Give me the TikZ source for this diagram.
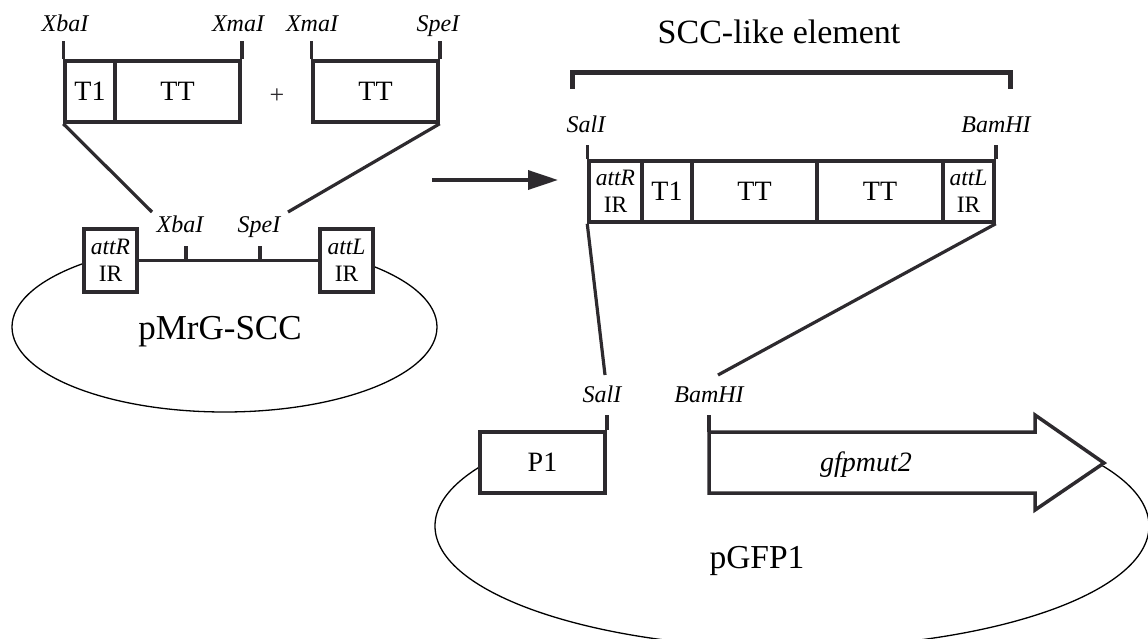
\documentclass[tikz,border=0pt]{standalone}
\usepackage{fontspec}
\setmainfont{Liberation Serif}
\usetikzlibrary{arrows.meta}
\definecolor{ink}{RGB}{45,42,46}
\begin{document}
\begin{tikzpicture}[x=1pt,y=-1pt,
  box/.style={draw=ink, line width=3.5pt, fill=white, inner sep=0pt, minimum height=61pt,
    font=\fontsize{28}{32}\selectfont},
  irbox/.style={draw=ink, line width=3.5pt, fill=white, inner sep=0pt, align=center,
    font=\fontsize{23.5}{27}\selectfont},
  tickline/.style={draw=ink, line width=3.5pt},
  conn/.style={draw=ink, line width=3.2pt},
  plas/.style={draw=black, line width=1.3pt},
  lab/.style={font=\fontsize{24}{28}\selectfont\itshape, inner sep=0pt, anchor=base},
  big/.style={font=\fontsize{34}{40}\selectfont, inner sep=0pt, anchor=base}]
\useasboundingbox (0,0) rectangle (1148,639);

% ---------- plasmid outlines (drawn first, lower parts only)
\begin{scope}
  \clip (0,258) rectangle (1148,639);
  \draw[plas] (224.5,327) ellipse [x radius=212.5, y radius=85];
\end{scope}
\begin{scope}
  \clip (0,466) rectangle (1148,660);
  \draw[plas] (792,526) ellipse [x radius=357, y radius=122];
\end{scope}

% ---------- top-left fragments
\node[box, minimum width=50pt]  (a1) at (90,91.5) {T1};
\node[box, minimum width=125pt] (a2) at (177.5,91.5) {TT};
\node[box, minimum width=125pt] (b1) at (375.5,91.5) {TT};
\draw[tickline] (a1.north west) -- ++(0,-18);
\draw[tickline] (a2.north east) -- ++(0,-18);
\draw[tickline] (b1.north west) -- ++(0,-18);
\draw[tickline] (b1.north east) -- ++(0,-18);
\node[lab] (lxba1) at (65,32) {XbaI};
\node[lab] (lxma1) at (238,32) {XmaI};
\node[lab] (lxma2) at (312,32) {XmaI};
\node[lab] (lspe1) at (438,32) {SpeI};
\node[font=\fontsize{26}{30}\selectfont, inner sep=0pt, text=ink] (plus) at (277,96) {+};

% ---------- pMrG-SCC
\node[irbox, minimum width=53pt, minimum height=63pt, line width=4pt] (pattR) at (110.5,260.5) {\textit{attR}\\IR};
\node[irbox, minimum width=53pt, minimum height=63pt, line width=4pt] (pattL) at (346.5,260.5) {\textit{attL}\\IR};
\draw[tickline] (pattR.east) -- (pattL.west);
\coordinate (kx) at (186,260);
\coordinate (ks) at (260,260);
\draw[tickline] (kx) -- ++(0,-14);
\draw[tickline] (ks) -- ++(0,-14);
\node[lab] (lxba2) at (180,233) {XbaI};
\node[lab] (lspe2) at (259,233) {SpeI};
\node[big, font=\fontsize{35}{40}\selectfont] (pmrg) at (220,339) {pMrG-SCC};

\coordinate (c1) at (152,212);
\coordinate (c2) at (288,212);
\draw[conn] (a1.south west) -- (c1);
\draw[conn] (b1.south east) -- (c2);

% ---------- middle arrow
\coordinate (arS) at (432,180);
\coordinate (arE) at (558,180);
\draw[draw=ink, line width=3.5pt, -{Triangle[length=30pt,width=19pt]}] (arS) -- (arE);

% ---------- SCC-like element
\node[big] (title) at (779,44) {SCC-like element};
\coordinate (brL) at (572,89);
\coordinate (brR) at (1010,89);
\draw[draw=ink, line width=5pt] (brL) -- (572,73) -- (1010,73) -- (brR);

\node[irbox, minimum width=53pt, minimum height=61pt] (sattR) at (615.5,191.5) {\textit{attR}\\IR};
\node[box, minimum width=50pt]  (sT1) at (667,191.5) {T1};
\node[box, minimum width=125pt] (sTT1) at (754.5,191.5) {TT};
\node[box, minimum width=126pt] (sTT2) at (880,191.5) {TT};
\node[irbox, minimum width=51pt, minimum height=61pt] (sattL) at (968.5,191.5) {\textit{attL}\\IR};
\draw[tickline] (sattR.north west) -- ++(0,-14);
\draw[tickline] (sattL.north east) -- ++(0,-14);
\node[lab] (lsal1) at (586,133) {SalI};
\node[lab] (lbam1) at (996,133) {BamHI};

\coordinate (d1) at (605,375);
\coordinate (d2) at (718,375);
\draw[conn] (sattR.south west) -- (d1);
\draw[conn] (sattL.south east) -- (d2);

% ---------- pGFP1
\node[lab] (lsal2) at (602,402) {SalI};
\node[lab] (lbam2) at (709,402) {BamHI};
\node[box, minimum width=125pt, font=\fontsize{28}{32}\selectfont] (p1) at (542.5,462.5) {P1};
\draw[tickline] (p1.north east) -- ++(0,-15);

\coordinate (g0) at (709,432);
\draw[draw=ink, line width=3.5pt, fill=white]
  (g0) -- (1035,432) -- (1035,415) -- (1104,463) -- (1035,510) -- (1035,493) -- (709,493) -- cycle;
\draw[tickline] (g0) -- ++(0,-17);
\node[inner sep=0pt, anchor=base, font=\fontsize{28}{32}\selectfont\itshape] (gfp) at (866,471) {gfpmut2};
\node[big, font=\fontsize{33.5}{40}\selectfont] (pgfp) at (757,568) {pGFP1};
\end{tikzpicture}
\end{document}
